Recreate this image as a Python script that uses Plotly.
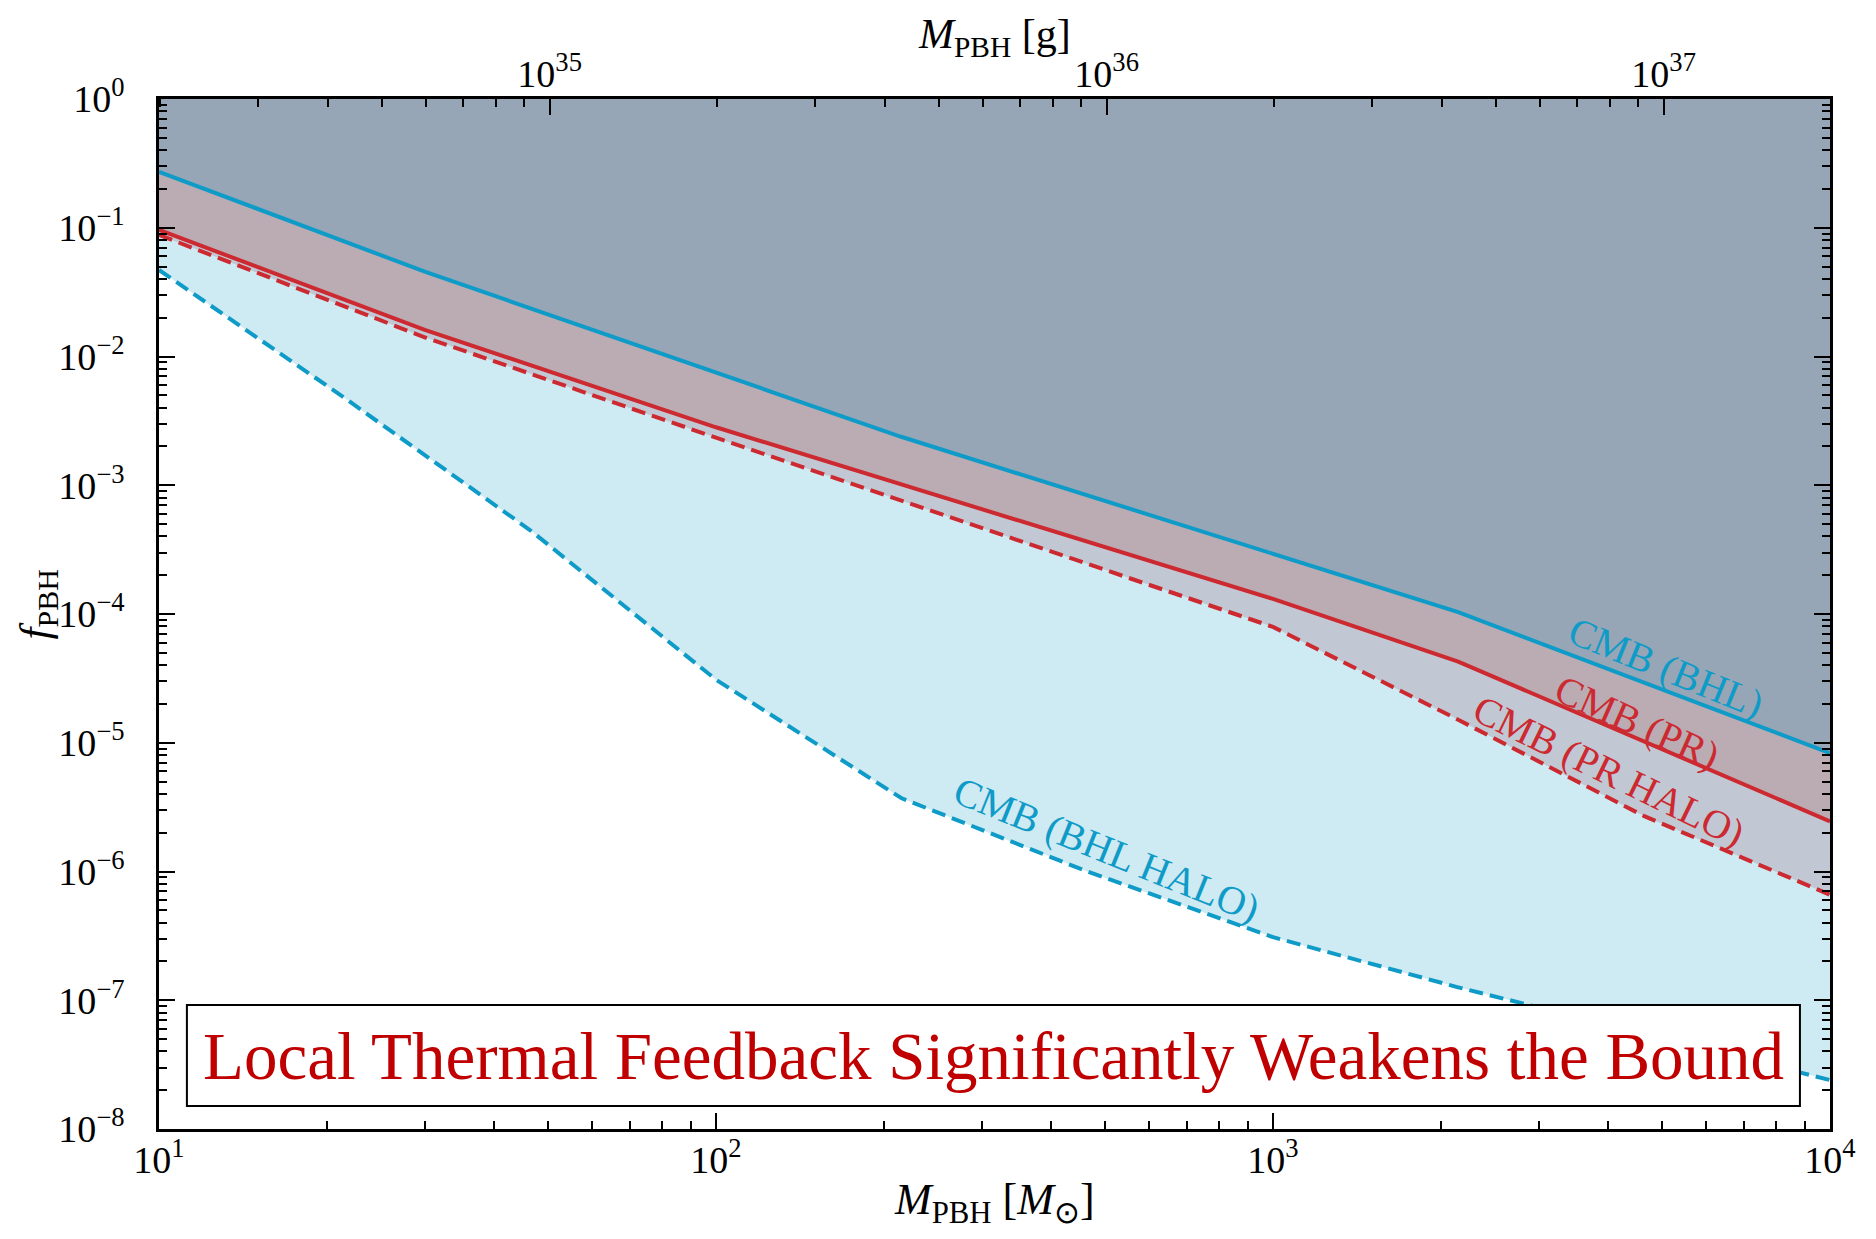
import numpy as np
import plotly.graph_objects as go

# ---------------- data ----------------
M_BHL = [10, 30, 215, 2150, 10000]
f_BHL = [0.272, 0.0456, 2.38e-3, 1.035e-4, 8.3e-6]

M_PR = [10, 30, 100, 1000, 2150, 10000]
f_PR = [0.0962, 0.0161, 2.82e-3, 1.31e-4, 4.27e-5, 2.45e-6]

M_PR_HALO = [10, 30, 100, 1000, 2150, 4640, 10000]
f_PR_HALO = [0.0879, 0.0141, 2.34e-3, 7.94e-5, 1.51e-5, 2.69e-6, 6.6e-7]

M_BHL_HALO = [10, 21.5, 46.4, 100, 215, 464, 1000, 2150, 4640, 10000]
f_BHL_HALO = [0.047, 4.79e-3, 4.47e-4, 3.09e-5, 3.72e-6, 1.0e-6, 3.09e-7,
              1.26e-7, 5.5e-8, 2.4e-8]

X_RANGE = [10, 1e4]
Y_RANGE = [1e-8, 1]
MSUN_G = 1.989e33

y_tickvals = [10.0 ** k for k in range(-8, 1)]
y_ticktext = ["10<sup>0</sup>" if k == 0 else f"10<sup>\u2212{-k}</sup>" for k in range(-8, 1)]
x_tickvals = [10, 100, 1000, 10000]
x_ticktext = ["10<sup>1</sup>", "10<sup>2</sup>", "10<sup>3</sup>", "10<sup>4</sup>"]
g_tickvals = [1e35, 1e36, 1e37]
g_ticktext = ["10<sup>35</sup>", "10<sup>36</sup>", "10<sup>37</sup>"]

labels = ["CMB (BHL)", "CMB (PR)", "CMB (PR HALO)", "CMB (BHL HALO)"]
banner = "Local Thermal Feedback Significantly Weakens the Bound"


def minor_vals(lo_exp, hi_exp):
    return [m * 10.0 ** e for e in range(lo_exp, hi_exp) for m in range(2, 10)]


# ---------------- style ----------------
BLUE = "#0f9bc8"
RED = "#cc2a30"
C_BHL = "#96a6b6"
C_PR = "#bbabb3"
C_PRH = "#c2c8d3"
C_BHLH = "#ceeaf2"
FONT = "Liberation Serif"

fig = go.Figure()


def region(M, f, color):
    xs = list(M) + [X_RANGE[1], X_RANGE[0]]
    ys = list(f) + [Y_RANGE[1], Y_RANGE[1]]
    fig.add_trace(go.Scatter(x=xs, y=ys, mode="lines", fill="toself",
                             fillcolor=color, line=dict(width=0),
                             hoverinfo="skip", showlegend=False))


# filled regions (drawn from the weakest to the strongest)
region(M_BHL_HALO, f_BHL_HALO, C_BHLH)
region(M_PR_HALO, f_PR_HALO, C_PRH)
region(M_PR, f_PR, C_PR)
region(M_BHL, f_BHL, C_BHL)

# curves
LW = 4
DASH = "14px,7px"
fig.add_trace(go.Scatter(x=M_BHL_HALO, y=f_BHL_HALO, mode="lines",
                         line=dict(color=BLUE, width=LW, dash=DASH),
                         showlegend=False))
fig.add_trace(go.Scatter(x=M_PR_HALO, y=f_PR_HALO, mode="lines",
                         line=dict(color=RED, width=LW, dash=DASH),
                         showlegend=False))
fig.add_trace(go.Scatter(x=M_PR, y=f_PR, mode="lines",
                         line=dict(color=RED, width=LW), showlegend=False))
fig.add_trace(go.Scatter(x=M_BHL, y=f_BHL, mode="lines",
                         line=dict(color=BLUE, width=LW), showlegend=False))

# invisible trace to activate the top (gram) axis
fig.add_trace(go.Scatter(x=np.array(M_BHL) * MSUN_G, y=f_BHL, xaxis="x2",
                         mode="lines", line=dict(width=0), opacity=0,
                         hoverinfo="skip", showlegend=False))

tickfont = dict(family=FONT, size=38, color="black")
major = dict(ticks="inside", ticklen=16, tickwidth=2, tickcolor="black")


def minor(vals):
    return dict(tickmode="array", tickvals=vals, ticks="inside", ticklen=8,
                tickwidth=1.6, tickcolor="black", showgrid=False)


fig.update_layout(
    width=1860, height=1223,
    margin=dict(l=151, r=33, t=91, b=102),
    paper_bgcolor="white", plot_bgcolor="white",
    font=dict(family=FONT, color="black"),
    xaxis=dict(type="log", range=[np.log10(X_RANGE[0]), np.log10(X_RANGE[1])],
               tickmode="array", tickvals=x_tickvals, ticktext=x_ticktext,
               tickfont=tickfont, **major, minor=minor(minor_vals(1, 4)),
               ticklabelstandoff=-4,
               showline=True, linewidth=2.5, linecolor="black", mirror=False,
               showgrid=False, zeroline=False),
    xaxis2=dict(type="log", overlaying="x", side="top",
                range=[np.log10(X_RANGE[0] * MSUN_G), np.log10(X_RANGE[1] * MSUN_G)],
                tickmode="array", tickvals=g_tickvals, ticktext=g_ticktext,
                tickfont=tickfont, **major, minor=minor(minor_vals(34, 38)),
                ticklabelstandoff=-6,
                showline=True, linewidth=2.5, linecolor="black",
                showgrid=False, zeroline=False),
    yaxis=dict(type="log", range=[np.log10(Y_RANGE[0]), np.log10(Y_RANGE[1])],
               tickmode="array", tickvals=y_tickvals, ticktext=y_ticktext,
               tickfont=tickfont, **major, minor=minor(minor_vals(-8, 0)),
               ticklabelstandoff=24,
               showline=True, linewidth=2.5, linecolor="black", mirror="ticks",
               showgrid=False, zeroline=False),
)

# axis titles
fig.add_annotation(text="<i>M</i><sub>PBH</sub> [<i>M</i><sub>\u2299</sub>]",
                   xref="paper", yref="paper", x=0.5, y=-0.071,
                   xanchor="center", yanchor="middle", showarrow=False,
                   font=dict(family=FONT, size=44))
fig.add_annotation(text="<i>M</i><sub>PBH</sub> [g]",
                   xref="paper", yref="paper", x=0.5, y=1.06,
                   xanchor="center", yanchor="middle", showarrow=False,
                   font=dict(family=FONT, size=42))
fig.add_annotation(text="<i>f</i><sub>PBH</sub>", textangle=-90,
                   xref="paper", yref="paper", x=-0.0725, y=0.51,
                   xanchor="center", yanchor="middle", showarrow=False,
                   font=dict(family=FONT, size=43))

# curve labels
label_pos = [(0.902, 0.4476, 22, BLUE), (0.885, 0.395, 24, RED),
             (0.868, 0.347, 26, RED), (0.567, 0.271, 22, BLUE)]
for txt, (px, py, ang, col) in zip(labels, label_pos):
    fig.add_annotation(text=txt, xref="paper", yref="paper", x=px, y=py,
                       xanchor="center", yanchor="middle",
                       textangle=ang, showarrow=False,
                       font=dict(family=FONT, size=40, color=col))

# banner
fig.add_shape(type="rect", xref="paper", yref="paper",
              x0=0.0167, x1=0.982, y0=0.0223, y1=0.1204,
              line=dict(color="black", width=2), fillcolor="white")
fig.add_annotation(text=banner, xref="paper", yref="paper", x=0.4994, y=0.071,
                   xanchor="center", yanchor="middle", showarrow=False,
                   font=dict(family=FONT, size=67, color="#c00000"))

fig.write_html("out.html")
